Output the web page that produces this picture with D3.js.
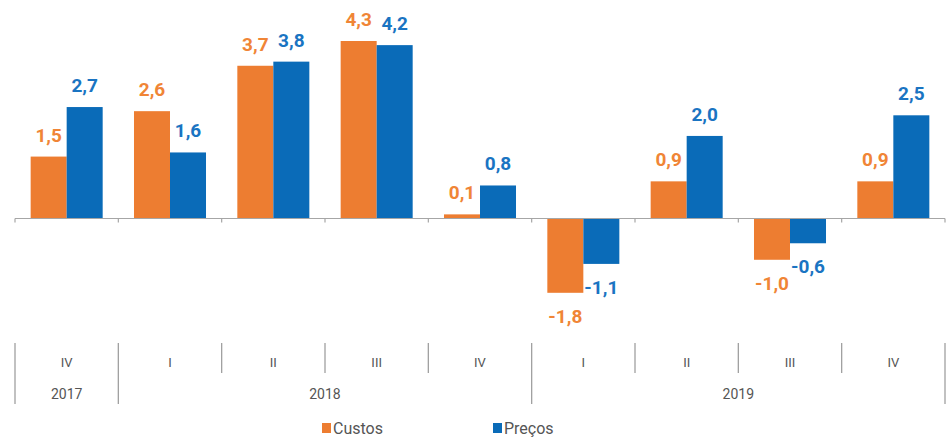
<!DOCTYPE html>
<html><head><meta charset="utf-8">
<script src="https://cdn.jsdelivr.net/npm/d3@7"></script>
<style>body{margin:0;background:#fff;}svg{display:block;font-family:Roboto,"Noto Sans",sans-serif;}</style>
</head><body>
<svg id="c" width="946" height="439"></svg>
<script>
const quarters = ["IV","I","II","III","IV","I","II","III","IV"];
const years = [{label:"2017",start:0,end:1},{label:"2018",start:1,end:5},{label:"2019",start:5,end:9}];
const custos = [1.5,2.6,3.7,4.3,0.1,-1.8,0.9,-1.0,0.9];
const precos = [2.7,1.6,3.8,4.2,0.8,-1.1,2.0,-0.6,2.5];
const seriesNames = ["Custos","Preços"];
const colors = ["#ED7D31","#0A6BB8"];
const labelColors = ["#F08536","#1A74C2"];

const svg = d3.select("#c");
const x0 = 15, x1 = 945;
const idx = d3.range(quarters.length);
const x = d3.scaleBand().domain(idx).range([x0,x1]).paddingInner(0).paddingOuter(0);
const xi = d3.scaleBand().domain([0,1]).range([0,x.bandwidth()]).paddingOuter(0.435).paddingInner(0);
const y = d3.scaleLinear().domain([-1.8,4.3]).range([292.8,41]);
const fmt = v => d3.format(".1f")(v).replace(".",",").replace("\u2212","-");

const data = idx.map(i => [custos[i], precos[i]]);
const g = svg.append("g");
data.forEach((vals,i)=>{
  vals.forEach((v,s)=>{
    const bx = x(i)+xi(s);
    g.append("rect").attr("x",bx).attr("width",xi.bandwidth())
      .attr("y",y(Math.max(0,v))).attr("height",Math.abs(y(v)-y(0)))
      .attr("fill",colors[s]);
    g.append("text").attr("x",bx+xi.bandwidth()/2)
      .attr("y", v>=0 ? y(v)-15 : y(v)+30)
      .attr("text-anchor","middle").attr("font-size",19).attr("font-weight",700)
      .attr("fill",labelColors[s]).text(fmt(v));
  });
});

// zero axis
svg.append("line").attr("x1",x0).attr("x2",x1).attr("y1",y(0)).attr("y2",y(0)).attr("stroke","#a6a6a6").attr("stroke-width",1.2);
d3.range(quarters.length+1).forEach(i=>{
  const xx = i<quarters.length ? x(i) : x1;
  svg.append("line").attr("x1",xx).attr("x2",xx).attr("y1",y(0)).attr("y2",y(0)+4).attr("stroke","#a6a6a6").attr("stroke-width",1.2);
});

// category axis
const yearBounds = new Set(years.flatMap(d=>[d.start,d.end]));
d3.range(quarters.length+1).forEach(i=>{
  const xx = i<quarters.length ? x(i) : x1;
  svg.append("line").attr("x1",xx).attr("x2",xx).attr("y1",343)
    .attr("y2", yearBounds.has(i)?404:373).attr("stroke","#a0a0a0").attr("stroke-width",1.3);
});
quarters.forEach((q,i)=>{
  svg.append("text").attr("x",x(i)+x.bandwidth()/2).attr("y",367).attr("text-anchor","middle")
    .attr("font-size",13).attr("fill","#555").text(q);
});
years.forEach(yr=>{
  const a = x(yr.start), b = yr.end<quarters.length ? x(yr.end) : x1;
  svg.append("text").attr("x",(a+b)/2).attr("y",399).attr("text-anchor","middle")
    .attr("font-size",14).attr("fill","#555").text(yr.label);
});

// legend
const legX = [322,493];
seriesNames.forEach((n,s)=>{
  svg.append("rect").attr("x",legX[s]).attr("y",423).attr("width",9).attr("height",10).attr("fill",colors[s]);
  svg.append("text").attr("x",legX[s]+11).attr("y",434).attr("font-size",16).attr("fill","#555").text(n);
});
</script>
</body></html>
